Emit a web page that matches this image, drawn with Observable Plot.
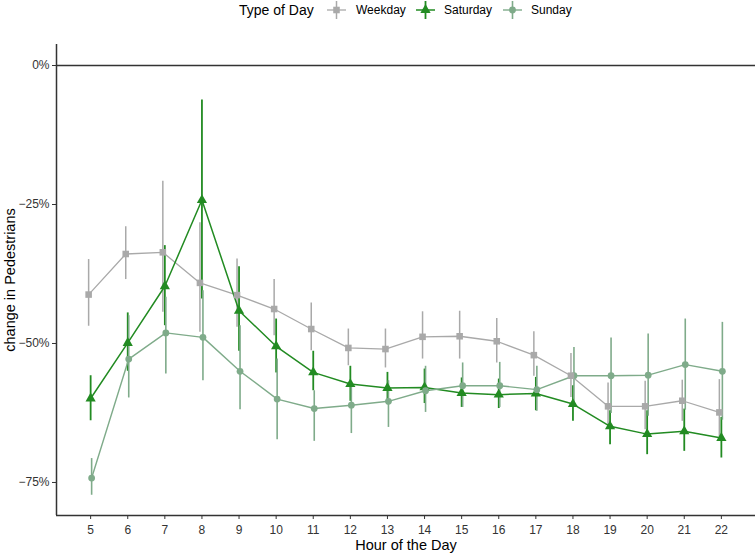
<!DOCTYPE html>
<html><head><meta charset="utf-8">
<script src="https://cdn.jsdelivr.net/npm/d3@7"></script>
<script src="https://cdn.jsdelivr.net/npm/@observablehq/plot@0.6"></script>
<style>
body{margin:0;background:#fff;font-family:"Liberation Sans",Arial,Helvetica,sans-serif;}
#wrap{position:relative;width:755px;height:553px;}
#legend{position:absolute;left:0;top:0;width:755px;height:22px;}
#legend .t{position:absolute;top:0;line-height:20px;white-space:nowrap;color:#000;}
#legend svg{position:absolute;top:0;}
#chart{position:absolute;left:0;top:0;}
</style></head><body>
<div id="wrap"><div id="chart"></div><div id="legend"></div></div>
<script>
const hours = [5,6,7,8,9,10,11,12,13,14,15,16,17,18,19,20,21,22];
const typeNames = ["Weekday","Saturday","Sunday"];
const typeColors = ["#a9a9a9","#228b22","#7fab8a"];
const typeSymbols = ["square","triangle","circle"];

const weekdayMean = [-41.2,-33.9,-33.6,-39.1,-41.3,-43.8,-47.4,-50.8,-51.0,-48.8,-48.7,-49.6,-52.1,-55.8,-61.3,-61.3,-60.3,-62.4];
const weekdayLow  = [-46.9,-38.5,-44.4,-48.0,-47.1,-48.6,-51.3,-54.0,-54.4,-52.8,-52.8,-53.5,-55.9,-59.7,-65.0,-65.5,-64.0,-66.8];
const weekdayHigh = [-34.9,-29.0,-20.8,-28.3,-34.8,-38.5,-42.7,-47.4,-47.4,-44.3,-44.2,-45.5,-47.9,-51.8,-57.1,-56.8,-56.6,-56.5];

const saturdayMean = [-59.9,-49.9,-39.7,-24.2,-44.1,-50.5,-55.2,-57.3,-58.0,-57.9,-58.9,-59.2,-59.0,-60.9,-64.9,-66.3,-65.8,-67.0];
const saturdayLow  = [-63.9,-55.0,-46.8,-42.0,-51.4,-55.3,-58.5,-60.4,-61.0,-60.8,-61.5,-61.7,-62.1,-64.0,-68.2,-70.0,-69.4,-70.6];
const saturdayHigh = [-55.8,-44.5,-32.4,-6.2,-36.2,-45.6,-51.4,-54.1,-55.2,-54.6,-56.2,-56.4,-56.1,-57.6,-62.1,-62.1,-61.8,-63.3];

const sundayMean = [-74.2,-52.8,-48.1,-48.9,-55.0,-60.0,-61.7,-61.1,-60.4,-58.5,-57.6,-57.6,-58.3,-55.8,-55.8,-55.7,-53.8,-55.0];
const sundayLow  = [-77.3,-59.8,-55.5,-56.7,-61.9,-67.3,-67.6,-66.2,-65.1,-62.4,-61.5,-61.5,-62.2,-60.9,-62.6,-63.1,-62.0,-63.8];
const sundayHigh = [-70.7,-45.0,-41.7,-40.5,-46.8,-52.8,-58.5,-57.3,-56.7,-54.1,-53.5,-53.4,-54.1,-50.7,-49.0,-48.3,-45.6,-46.2];

const yTicks = [0,-25,-50,-75];
const xDomain = [4.08, 22.92];
const yDomain = [-80.94, 3.78];

const series = [
  {name: typeNames[0], mean: weekdayMean, low: weekdayLow, high: weekdayHigh, color: typeColors[0], symbol: typeSymbols[0], dx: -2, r: 3.7, ew: 1.5, lw: 1.3},
  {name: typeNames[1], mean: saturdayMean, low: saturdayLow, high: saturdayHigh, color: typeColors[1], symbol: typeSymbols[1], dx: 0, r: 3.8, ew: 1.8, lw: 1.5},
  {name: typeNames[2], mean: sundayMean, low: sundayLow, high: sundayHigh, color: typeColors[2], symbol: typeSymbols[2], dx: 1, r: 3.4, ew: 1.6, lw: 1.4}
];
const rowsOf = s => hours.map((h, i) => ({type: s.name, hour: h, mean: s.mean[i], low: s.low[i], high: s.high[i]}));

const fmt = d => (d < 0 ? "\u2212" + Math.abs(d) : String(d)) + "%";

const marks = [
  Plot.ruleY([0], {stroke: "#333", strokeWidth: 1.5}),
  Plot.ruleX([xDomain[0]], {stroke: "#333", strokeWidth: 1.5}),
  Plot.ruleY([yDomain[0]], {stroke: "#333", strokeWidth: 1.5}),
  Plot.axisY({ticks: yTicks, tickFormat: fmt, tickSize: 4, tickPadding: 3, fontSize: 12, stroke: "#333", fill: "#333", label: null}),
  Plot.axisX({ticks: hours, tickFormat: d => String(d), tickSize: 4, tickPadding: 6, fontSize: 12, stroke: "#333", fill: "#333", label: null}),
  Plot.text(["Hour of the Day"], {text: d => d, frameAnchor: "bottom", lineAnchor: "middle", textAnchor: "middle", dy: 30, fontSize: 14.5, fill: "#000"}),
  Plot.text(["change in Pedestrians"], {text: d => d, frameAnchor: "left", textAnchor: "middle", lineAnchor: "middle", rotate: -90, dx: -46, fontSize: 14.5, fill: "#000"})
];
for (const s of series) marks.push(Plot.ruleX(rowsOf(s), {x: "hour", y1: "low", y2: "high", stroke: s.color, strokeWidth: s.ew, dx: s.dx}));
for (const s of series) marks.push(Plot.line(rowsOf(s), {x: "hour", y: "mean", stroke: s.color, strokeWidth: s.lw, dx: s.dx}));
for (const s of [series[1], series[2], series[0]]) marks.push(Plot.dot(rowsOf(s), {x: "hour", y: "mean", fill: s.color, stroke: "none", symbol: s.symbol, r: s.r, dx: s.dx}));

const chart = Plot.plot({
  width: 755, height: 553,
  marginTop: 44, marginBottom: 38, marginLeft: 56, marginRight: 0,
  x: {type: "linear", domain: xDomain},
  y: {type: "linear", domain: yDomain},
  style: {fontFamily: "Liberation Sans, Arial, Helvetica, sans-serif", fontSize: "12px", background: "#fff"},
  marks
});
document.getElementById("chart").appendChild(chart);

// Legend
const legend = document.getElementById("legend");
const title = document.createElement("div");
title.className = "t"; title.style.left = "239px"; title.style.fontSize = "14px"; title.textContent = "Type of Day";
legend.appendChild(title);
const keyLefts = [327, 416, 503];
const labelLefts = [356, 444, 531];
series.forEach((s, i) => {
  const svg = d3.create("svg").attr("width", 20).attr("height", 20).style("left", keyLefts[i] + "px");
  svg.append("line").attr("x1", 0).attr("x2", 19).attr("y1", 10).attr("y2", 10).attr("stroke", s.color).attr("stroke-width", s.lw);
  svg.append("line").attr("x1", 9.5).attr("x2", 9.5).attr("y1", 1).attr("y2", 19).attr("stroke", s.color).attr("stroke-width", s.ew);
  const sym = {square: d3.symbolSquare, triangle: d3.symbolTriangle, circle: d3.symbolCircle}[s.symbol];
  svg.append("path").attr("transform", "translate(9.5,10)").attr("d", d3.symbol(sym, Math.PI * s.r * s.r)()).attr("fill", s.color);
  legend.appendChild(svg.node());
  const lab = document.createElement("div");
  lab.className = "t"; lab.style.left = labelLefts[i] + "px"; lab.style.fontSize = "12px"; lab.textContent = s.name;
  legend.appendChild(lab);
});
</script>
</body></html>
